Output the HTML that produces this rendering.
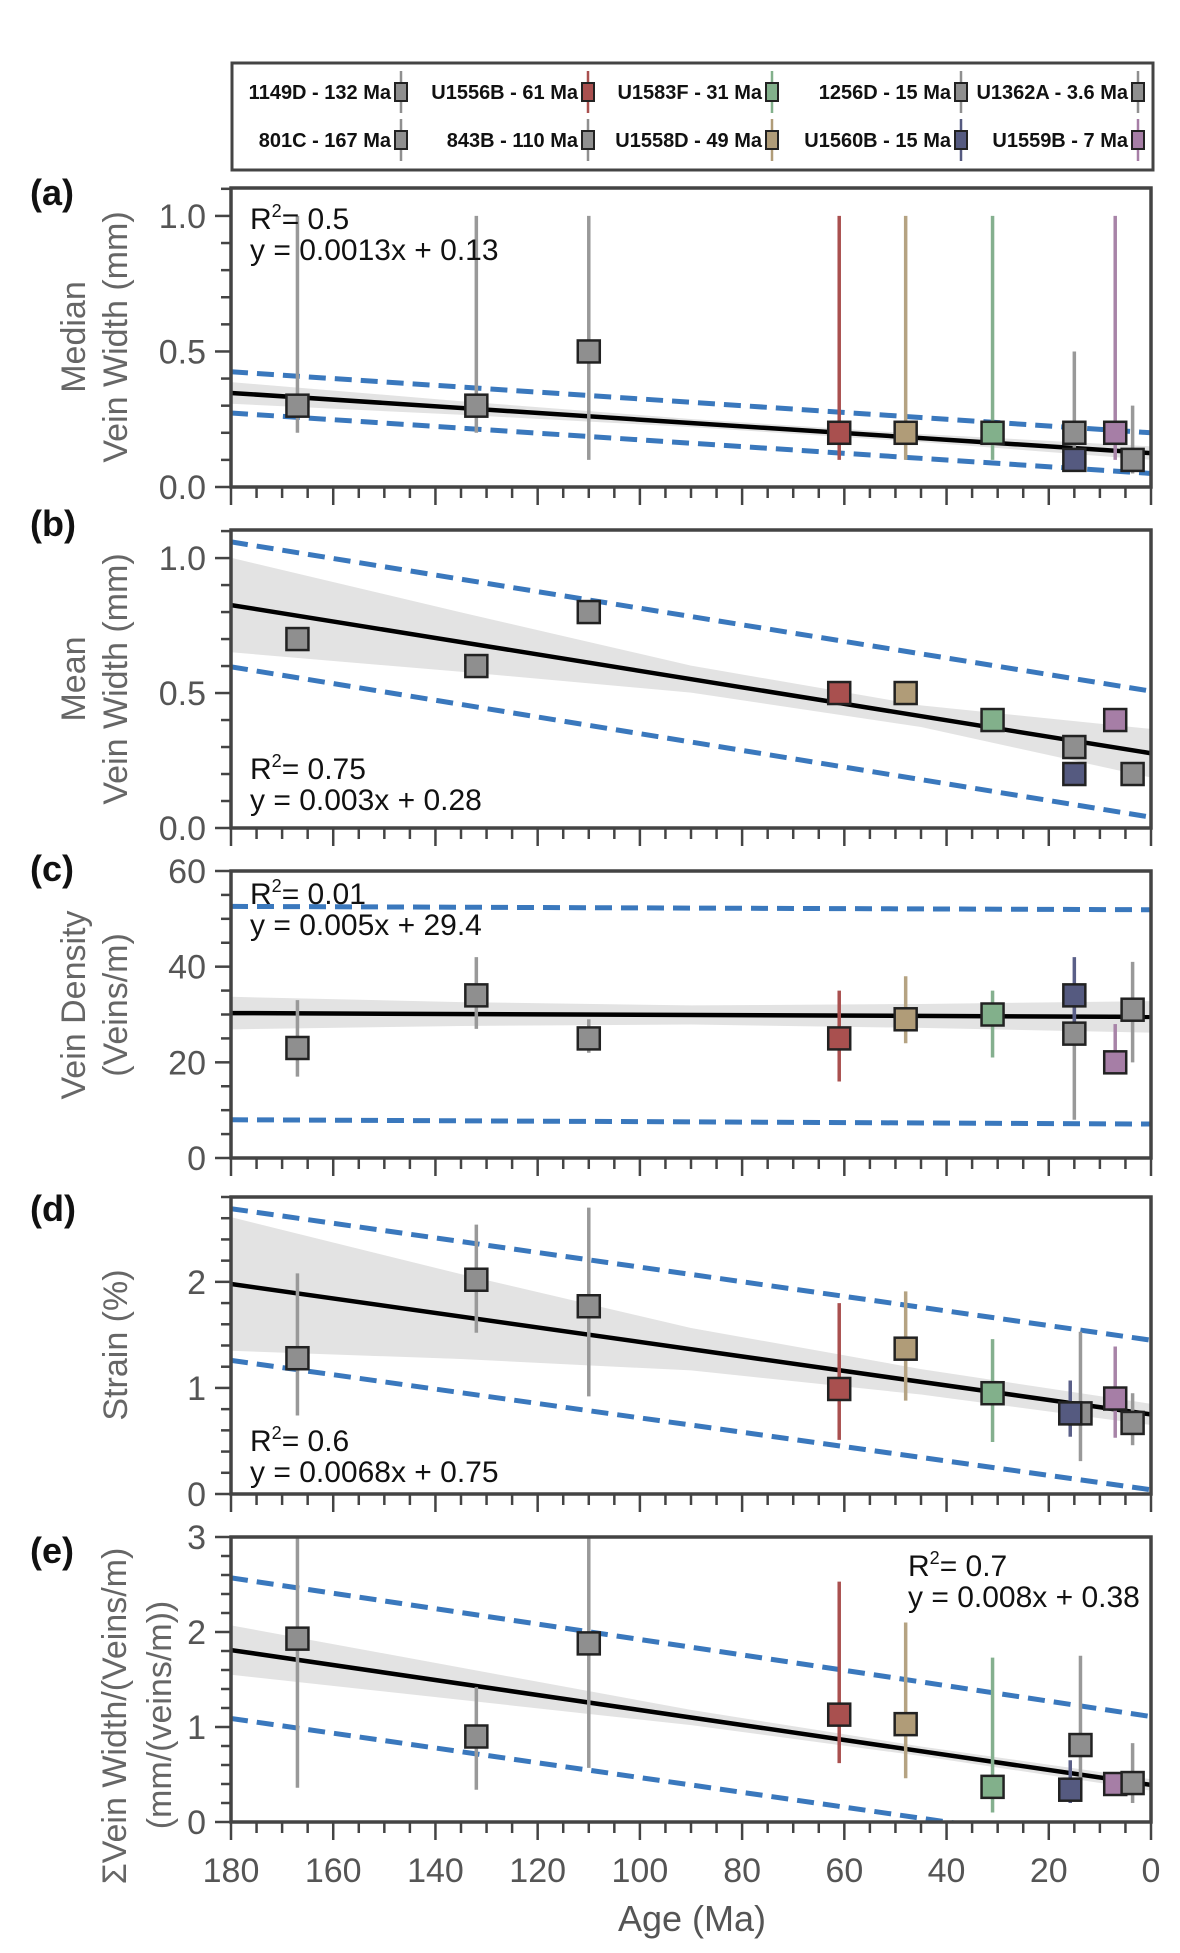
<!DOCTYPE html>
<html><head><meta charset="utf-8"><style>
html,body{margin:0;padding:0;background:#fff;}
svg{display:block;}
.tk{font-family:"Liberation Sans",sans-serif;font-size:34px;fill:#555;}
.ann{font-family:"Liberation Sans",sans-serif;font-size:30px;fill:#111;}
.yt{font-family:"Liberation Sans",sans-serif;font-size:34px;fill:#666;}
.pl{font-family:"Liberation Sans",sans-serif;font-size:36px;font-weight:bold;fill:#111;}
.lg{font-family:"Liberation Sans",sans-serif;font-size:20px;font-weight:bold;fill:#111;}
</style></head><body>
<svg id="fig" width="1180" height="1953" viewBox="0 0 1180 1953" xmlns="http://www.w3.org/2000/svg"></svg>
<script>
// ---- data ----
const agesABC = [167,132,110,61,48,31,15,15,7,3.6];
const agesDE  = [167,132,110,61,48,31,13.8,15.8,7,3.6];
const siteColors = ['#8f8f8f','#8f8f8f','#8f8f8f','#a9504f','#b09c78','#82b08b','#8f8f8f','#555a80','#a67ea6','#8f8f8f'];
const barColors  = ['#999','#999','#999','#a9504f','#b5a382','#85b08f','#999','#5a5f88','#a884a8','#999'];

const medVal = [0.3,0.3,0.5,0.2,0.2,0.2,0.2,0.1,0.2,0.1];
const medLo  = [0.2,0.2,0.1,0.1,0.1,0.1,0.1,0.1,0.1,0.05];
const medHi  = [1.0,1.0,1.0,1.0,1.0,1.0,0.5,0.1,1.0,0.3];

const meanVal = [0.7,0.6,0.8,0.5,0.5,0.4,0.3,0.2,0.4,0.2];

const denVal = [23,34,25,25,29,30,26,34,20,31];
const denLo  = [17,27,22,16,24,21,8,27,18,20];
const denHi  = [33,42,29,35,38,35,34,42,28,41];

const strVal = [1.28,2.02,1.77,0.99,1.37,0.95,0.76,0.76,0.9,0.67];
const strLo  = [0.74,1.52,0.92,0.51,0.88,0.49,0.31,0.54,0.53,0.46];
const strHi  = [2.08,2.54,2.7,1.8,1.91,1.46,1.53,1.07,1.39,0.95];

const sumVal = [1.93,0.9,1.88,1.13,1.03,0.37,0.81,0.34,0.40,0.41];
const sumLo  = [0.36,0.34,0.57,0.62,0.46,0.1,0.34,0.2,0.3,0.2];
const sumHi  = [3.0,1.42,3.0,2.53,2.1,1.73,1.75,0.65,0.5,0.83];

// fit lines: [value at 180 Ma, value at 0 Ma]
const fitA=[0.347,0.125], upA=[0.425,0.2], loA=[0.273,0.05];
const fitB=[0.826,0.277], upB=[1.06,0.507], loB=[0.597,0.04];
const fitC=[30.3,29.5], upC=[52.6,51.9], loC=[8.0,7.1];
const fitD=[1.98,0.75], upD=[2.69,1.45], loD=[1.26,0.04];
const fitE=[1.81,0.39], upE=[2.57,1.11], loE=[1.09,-0.31];
const bandAges=[180,135,90,45,0];
const bandA=[0.04,0.025,0.015,0.015,0.025];
const bandB=[0.175,0.11,0.05,0.04,0.09];
const bandC=[3.4,2.5,2.0,2.5,3.3];
const bandD=[0.63,0.4,0.2,0.12,0.1];
const bandE=[0.26,0.17,0.08,0.05,0.06];

const xMajor=[180,160,140,120,100,80,60,40,20,0];
const legendRow1=['1149D - 132 Ma','U1556B - 61 Ma','U1583F - 31 Ma','1256D - 15 Ma','U1362A - 3.6 Ma'];
const legendRow2=['801C - 167 Ma','843B - 110 Ma','U1558D - 49 Ma','U1560B - 15 Ma','U1559B - 7 Ma'];
const legendCol1=['#8f8f8f','#a9504f','#82b08b','#8f8f8f','#8f8f8f'];
const legendCol2=['#8f8f8f','#8f8f8f','#b09c78','#555a80','#a67ea6'];

// ---- drawing ----
const NS='http://www.w3.org/2000/svg';
const svg=document.getElementById('fig');
function mk(tag,attrs,parent){const e=document.createElementNS(NS,tag);for(const k in attrs)e.setAttribute(k,attrs[k]);(parent||svg).appendChild(e);return e;}
function ctext(x,y,str,cls,anchor,parent){
  const t=mk('text',{x:x,y:y,class:cls,'text-anchor':anchor},parent);
  t.textContent=str;return t;
}
const X0=231,X1=1151;
function xs(a){return X0+(180-a)*(X1-X0)/180;}

const lgBox=mk('rect',{x:232,y:63,width:921,height:107,fill:'none',stroke:'#444','stroke-width':3});


const lgX=[401,588,772,961,1138];
function legendRow(labels,cols,cy){
  for(let i=0;i<labels.length;i++){
    const g=mk('g',{});
    
    
    ctext(lgX[i]-10,cy+7,labels[i],'lg','end',g);
    mk('line',{x1:lgX[i],x2:lgX[i],y1:cy-21,y2:cy+21,stroke:cols[i],'stroke-width':2.5},g);
    mk('rect',{x:lgX[i]-6,y:cy-9,width:12,height:18,fill:cols[i],stroke:'#222','stroke-width':2},g);
  }
}
legendRow(legendRow1,legendCol1,92);
legendRow(legendRow2,legendCol2,140);

const panels=[
 {id:'a',top:188,bot:487,ymax:1.103,major:[0,0.5,1.0],fmt:v=>v.toFixed(1),minor:0.1,ages:agesABC,val:medVal,lo:medLo,hi:medHi,fit:fitA,up:upA,low:loA,band:bandA,
  lab:192,titles:[['Median',74,337],['Vein Width (mm)',116,337]],ann:[250,227,'0.5','y = 0.0013x +  0.13']},
 {id:'b',top:530,bot:828,ymax:1.104,major:[0,0.5,1.0],fmt:v=>v.toFixed(1),minor:0.1,ages:agesABC,val:meanVal,lo:null,hi:null,fit:fitB,up:upB,low:loB,band:bandB,
  lab:523,titles:[['Mean',74,679],['Vein Width (mm)',116,679]],ann:[250,777,'0.75','y =  0.003x + 0.28']},
 {id:'c',top:871,bot:1158,ymax:60,major:[0,20,40,60],fmt:v=>String(v),minor:5,ages:agesABC,val:denVal,lo:denLo,hi:denHi,fit:fitC,up:upC,low:loC,band:bandC,
  lab:868,titles:[['Vein Density',74,1005],['(Veins/m)',116,1005]],ann:[250,902,'0.01','y = 0.005x + 29.4']},
 {id:'d',top:1197,bot:1494,ymax:2.8,major:[0,1,2],fmt:v=>String(v),minor:0.2,ages:agesDE,val:strVal,lo:strLo,hi:strHi,fit:fitD,up:upD,low:loD,band:bandD,
  lab:1208,titles:[['Strain (%)',116,1345]],ann:[250,1449,'0.6','y =  0.0068x + 0.75']},
 {id:'e',top:1537,bot:1822,ymax:3,major:[0,1,2,3],fmt:v=>String(v),minor:0.2,ages:agesDE,val:sumVal,lo:sumLo,hi:sumHi,fit:fitE,up:upE,low:loE,band:bandE,
  lab:1550,titles:[['\u03A3Vein Width/(Veins/m)',115,1716],['(mm/(veins/m))',160,1715]],ann:[908,1574,'0.7','y = 0.008x + 0.38']}
];

panels.forEach(p=>{
  const ys=v=>p.bot-v/p.ymax*(p.bot-p.top);
  const g=mk('g',{});
  
  
  const cp=mk('clipPath',{id:'clip'+p.id},g);
  mk('rect',{x:X0,y:p.top,width:X1-X0,height:p.bot-p.top},cp);
  const plot=mk('g',{'clip-path':'url(#clip'+p.id+')'},g);
  let pts=[];
  const fitAt=a=>p.fit[1]+(p.fit[0]-p.fit[1])*a/180;
  bandAges.forEach((a,i)=>pts.push(xs(a)+','+ys(fitAt(a)+p.band[i])));
  for(let i=bandAges.length-1;i>=0;i--)pts.push(xs(bandAges[i])+','+ys(fitAt(bandAges[i])-p.band[i]));
  const band=mk('polygon',{points:pts.join(' '),fill:'#e3e3e3'},plot);
  
  
  [p.up,p.low].forEach((l,k)=>{
    const d=mk('line',{x1:xs(180),y1:ys(l[0]),x2:xs(0),y2:ys(l[1]),stroke:'#3a78bd','stroke-width':5,'stroke-dasharray':'17 9'},plot);
    
    
  });
  const fl=mk('line',{x1:xs(180),y1:ys(p.fit[0]),x2:xs(0),y2:ys(p.fit[1]),stroke:'#000','stroke-width':4.5},plot);
  
  
  if(p.lo){p.ages.forEach((a,i)=>{
    const e=mk('line',{x1:xs(a),x2:xs(a),y1:ys(p.lo[i]),y2:ys(p.hi[i]),stroke:barColors[i],'stroke-width':3.5},plot);
    
    
  });}
  p.ages.forEach((a,i)=>{
    const r=mk('rect',{x:xs(a)-11,y:ys(p.val[i])-11,width:22,height:22,fill:siteColors[i],stroke:'#222','stroke-width':2.5},g);
    
    
  });
  const fr=mk('rect',{x:X0,y:p.top,width:X1-X0,height:p.bot-p.top,fill:'none',stroke:'#444','stroke-width':3.5},g);
  
  
  for(let a=0;a<=180;a+=5){
    const maj=a%20===0;
    mk('line',{x1:xs(a),x2:xs(a),y1:p.bot,y2:p.bot+(maj?18:11),stroke:'#444','stroke-width':2.5},g);
  }
  const n=Math.round(p.ymax/p.minor+0.001);
  for(let k=0;k<=n;k++){
    const v=k*p.minor; if(v>p.ymax+1e-9)break;
    const maj=p.major.some(m=>Math.abs(m-v)<1e-6);
    mk('line',{x1:X0-(maj?16:10),x2:X0,y1:ys(v),y2:ys(v),stroke:'#444','stroke-width':2.5},g);
  }
  p.major.forEach(v=>{
    const t=ctext(206,ys(v)+12,p.fmt(v),'tk','end',g);
    
    
  });
  const pl=ctext(30,p.lab+13,'('+p.id+')','pl','start',g);
  
  
  p.titles.forEach(tt=>{
    const t=mk('text',{x:tt[1],y:tt[2],'text-anchor':'middle','dominant-baseline':'central',class:'yt',transform:'rotate(-90 '+tt[1]+' '+tt[2]+')'},g);
    t.textContent=tt[0];
    
    
  });
  const an=mk('text',{x:p.ann[0],y:p.ann[1]+2,class:'ann'},g);
  
  
  an.appendChild(document.createTextNode('R'));
  const sup=mk('tspan',{'font-size':'18px',dy:-12},an);sup.textContent='2';
  const rest=mk('tspan',{dy:12},an);rest.textContent='= '+p.ann[2];
  const eq=ctext(p.ann[0],p.ann[1]+33,p.ann[3],'ann','start',g);
  
  
  if(p.id==='e'){
    xMajor.forEach(a=>{
      const t=ctext(xs(a),1882,String(a),'tk','middle',g);
      
      
    });
    const xt=ctext(692,1931,'Age (Ma)','tk','middle',g);
    xt.setAttribute('style','font-size:36px;fill:#555');
    
    
  }
});
</script>
</body></html>
